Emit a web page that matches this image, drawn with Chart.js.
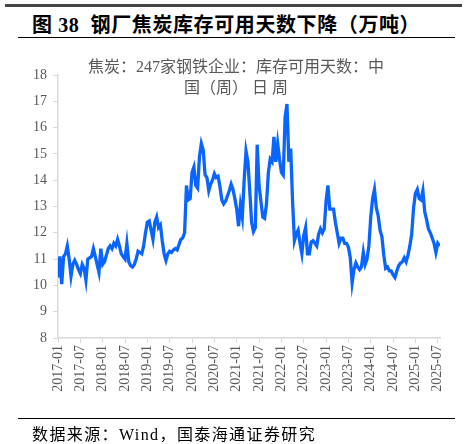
<!DOCTYPE html>
<html>
<head>
<meta charset="utf-8">
<script src="https://cdn.jsdelivr.net/npm/chart.js@4.4.1/dist/chart.umd.min.js"></script>
<style>
  body { margin: 0; width: 476px; height: 444px; position: relative; background: #fff; overflow: hidden;
         font-family: "Liberation Serif", "Noto Sans CJK SC", serif; }
  #topbar { position: absolute; left: 5px; top: 4px; width: 457px; height: 3px; background: #444; }
  #title { position: absolute; left: 32px; top: 9px; font-size: 20px; font-weight: bold; color: #000;
           white-space: nowrap; letter-spacing: 0.6px; }
  #rule1 { position: absolute; left: 18px; top: 37px; width: 437px; height: 1px; background: #000; }
  #rule2 { position: absolute; left: 18px; top: 418px; width: 437px; height: 1px; background: #000; }
  #source { position: absolute; left: 32px; top: 421px; font-size: 16px; color: #000; white-space: nowrap;
            letter-spacing: 1.4px; }
  #wrap { position: absolute; left: 0; top: 0; width: 476px; height: 444px; }
</style>
</head>
<body>
<div id="topbar"></div>
<div id="title">图 38&nbsp; 钢厂焦炭库存可用天数下降（万吨）</div>
<div id="rule1"></div>
<div id="wrap"><canvas id="coke"></canvas></div>
<div id="rule2"></div>
<div id="source">数据来源：Wind，国泰海通证券研究</div>

<script>
// x轴刻度
const tickLabels = ['2017-01','2017-07','2018-01','2018-07','2019-01','2019-07','2020-01','2020-07',
  '2021-01','2021-07','2022-01','2022-07','2023-01','2023-07','2024-01','2024-07','2025-01','2025-07'];

const seriesName = ['焦炭：247家钢铁企业：库存可用天数：中', '国（周） 日 周'];

// 半月一个点，从2017-01开始（天）
const days2017 = [10.3, 11.1, 10.05, 11.1, 11.2, 11.5, 11.0, 10.35, 10.8, 10.95, 10.8, 10.6,
  10.45, 10.8, 10.65, 10.2, 11.0, 11.05, 11.1, 11.4, 11.1, 10.8, 10.5, 11.4];
const days2018 = [10.8, 10.9, 11.15, 11.4, 11.5, 11.4, 11.6, 11.5, 11.75, 11.5, 11.2, 11.1,
  11.0, 11.6, 10.9, 10.75, 10.7, 10.8, 11.0, 11.3, 11.25, 11.2, 11.5, 12.0];
const days2019 = [12.4, 12.45, 12.1, 11.75, 12.4, 12.6, 12.2, 12.3, 11.7, 11.2, 10.95, 11.2,
  11.3, 11.25, 11.35, 11.4, 11.35, 11.55, 11.75, 11.8, 12.0, 13.8, 13.25, 13.3];
const days2020 = [14.3, 14.5, 13.8, 13.7, 14.9, 15.4, 15.15, 14.2, 14.1, 13.6, 13.85, 14.0,
  14.25, 14.1, 14.15, 13.75, 13.25, 13.1, 13.2, 13.4, 13.6, 13.85, 13.65, 13.3];
const days2021 = [12.9, 12.25, 13.05, 12.6, 14.0, 15.1, 14.7, 13.6, 12.4, 12.05, 12.2, 15.35,
  13.8, 13.2, 12.6, 12.55, 13.1, 14.3, 14.8, 14.7, 15.65, 14.7, 15.4, 14.8];
const days2022 = [14.3, 14.2, 16.4, 16.9, 14.7, 15.2, 13.2, 11.7, 11.95, 12.1, 11.6, 11.2,
  11.9, 12.2, 11.2, 11.2, 11.65, 11.7, 11.6, 11.5, 11.95, 12.15, 12.0, 12.15];
const days2023 = [13.2, 13.8, 12.9, 12.9, 12.9, 12.4, 12.0, 11.6, 11.8, 11.8, 11.6, 11.6,
  11.45, 11.05, 10.1, 10.6, 10.85, 10.7, 10.6, 10.7, 11.25, 10.8, 11.0, 11.5];
const days2024 = [12.6, 13.3, 13.65, 12.95, 12.65, 12.1, 11.85, 11.15, 10.65, 10.7, 10.55, 10.55,
  10.4, 10.3, 10.55, 10.75, 10.85, 10.9, 11.05, 10.9, 11.15, 11.5, 11.95, 12.95];
const days2025 = [13.5, 13.65, 13.3, 13.25, 13.6, 12.8, 12.5, 12.15, 12.0, 11.8, 11.6, 11.25,
  11.6, 11.5];

const allDays = [].concat(days2017, days2018, days2019, days2020, days2021,
  days2022, days2023, days2024, days2025);

const legendText = {
  id: 'legendText',
  afterDraw(chart) {
    const c = chart.ctx;
    c.save();
    c.font = '16px "Liberation Serif", "Noto Sans CJK SC"';
    c.fillStyle = '#595959';
    c.textAlign = 'center';
    c.textBaseline = 'middle';
    c.fillText(seriesName[0], 236, 68);
    c.fillText(seriesName[1], 236, 89);
    c.restore();
  }
};

const axisFont = { family: '"Liberation Serif", "Times New Roman", serif', size: 14 };

new Chart(document.getElementById('coke'), {
  type: 'line',
  data: {
    datasets: [{
      label: seriesName.join(''),
      data: allDays.map((v, i) => ({ x: i / 2, y: v })),
      borderColor: '#0a64ff',
      borderWidth: 3.3,
      pointRadius: 0,
      tension: 0
    }]
  },
  options: {
    responsive: true,
    maintainAspectRatio: false,
    animation: false,
    layout: { padding: { left: 0, right: 36, top: 75, bottom: 46 } },
    plugins: { legend: { display: false }, tooltip: { enabled: false } },
    scales: {
      x: {
        type: 'linear',
        min: 0,
        max: 102.6,
        afterBuildTicks: s => { s.ticks = tickLabels.map((_, i) => ({ value: i * 6 })); },
        afterFit: s => { s.height = 60; },
        ticks: {
          autoSkip: false,
          maxRotation: 90,
          minRotation: 90,
          color: '#595959',
          font: axisFont,
          padding: 2,
          callback: v => tickLabels[Math.round(v / 6)]
        },
        grid: { drawOnChartArea: false, tickLength: 5, color: '#d9d9d9' },
        border: { color: '#d9d9d9', width: 1.5 }
      },
      y: {
        min: 8,
        max: 18,
        afterFit: s => { s.width = 58; },
        ticks: { stepSize: 1, color: '#595959', font: axisFont, padding: 6 },
        grid: { drawOnChartArea: false, tickLength: 5, color: '#d9d9d9' },
        border: { color: '#d9d9d9', width: 1.5 }
      }
    }
  },
  plugins: [legendText]
});
</script>
</body>
</html>
